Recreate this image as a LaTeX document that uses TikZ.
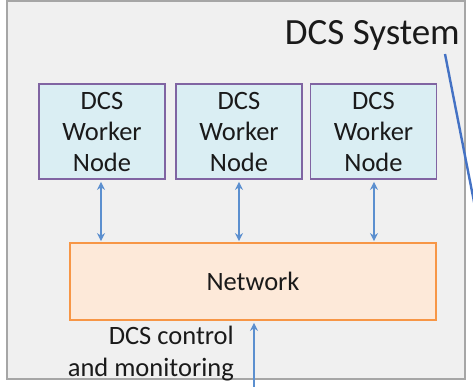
\documentclass[tikz,border=0pt]{standalone}
\usepackage{fontspec}
\setmainfont{Carlito}
\usetikzlibrary{arrows.meta}
\definecolor{sysfill}{HTML}{F0F0F0}
\definecolor{sysdraw}{HTML}{A6A6A6}
\definecolor{wfill}{HTML}{DAEEF3}
\definecolor{wdraw}{HTML}{8064A2}
\definecolor{nfill}{HTML}{FDE9D9}
\definecolor{ndraw}{HTML}{F79646}
\definecolor{arr}{HTML}{5B8FCF}
\definecolor{callout}{HTML}{4472C4}
\definecolor{txt}{HTML}{1A1A1A}
\tikzset{
  worker/.style={draw=wdraw, fill=wfill, line width=1.8pt, minimum width=126pt, minimum height=95pt,
    inner sep=0pt, align=center, text=txt, font=\fontsize{26.5}{31}\selectfont},
  netbox/.style={draw=ndraw, fill=nfill, line width=1.8pt, minimum width=366pt, minimum height=77pt,
    inner sep=0pt, text=txt, font=\fontsize{26.5}{30}\selectfont},
  link/.style={draw=arr, line width=1.6pt, {Stealth[length=8pt,width=8pt]}-{Stealth[length=8pt,width=8pt]}},
  uplink/.style={draw=arr, line width=1.6pt, -{Stealth[length=8pt,width=8pt]}},
}
\begin{document}
\begin{tikzpicture}[x=1pt,y=1pt]
\useasboundingbox (0,0) rectangle (473,387);
\begin{scope}
\clip (0,0) rectangle (473,387);
\node[draw=sysdraw, fill=sysfill, line width=2.2pt, minimum width=458pt, minimum height=378pt, inner sep=0pt] (sys) at (236,8+189) {};
\node[anchor=base east, inner sep=0pt, text=txt, font=\fontsize{37}{40}\selectfont] (title) at (460,342) {DCS System};
\coordinate (c1) at (445,333);
\coordinate (c2) at (477,170);
\draw[callout, line width=2.4pt] (c1) -- (c2);

\node[worker] (w1) at (102,255.5) {DCS\\Worker\\Node};
\node[worker] (w2) at (239,255.5) {DCS\\Worker\\Node};
\node[worker] (w3) at (373.5,255.5) {DCS\\Worker\\Node};

\node[netbox] (net) at (253,105.5) {Network};

\draw[link, shorten <=2pt, shorten >=1pt] ([xshift=-1pt]w1.south) -- ([xshift=-1pt]w1.south |- net.north);
\draw[link, shorten <=2pt, shorten >=1pt] (w2.south) -- (w2.south |- net.north);
\draw[link, shorten <=2pt, shorten >=1pt] ([xshift=0.5pt]w3.south) -- ([xshift=0.5pt]w3.south |- net.north);

\coordinate (ctl) at (254,0);
\draw[uplink, shorten >=2pt] (ctl) -- (ctl |- net.south);

\node[anchor=east, inner sep=0pt, align=right, text=txt, font=\fontsize{26.5}{32}\selectfont] (lbl) at (234,33) {DCS control\\and monitoring};
\end{scope}
\end{tikzpicture}
\end{document}
